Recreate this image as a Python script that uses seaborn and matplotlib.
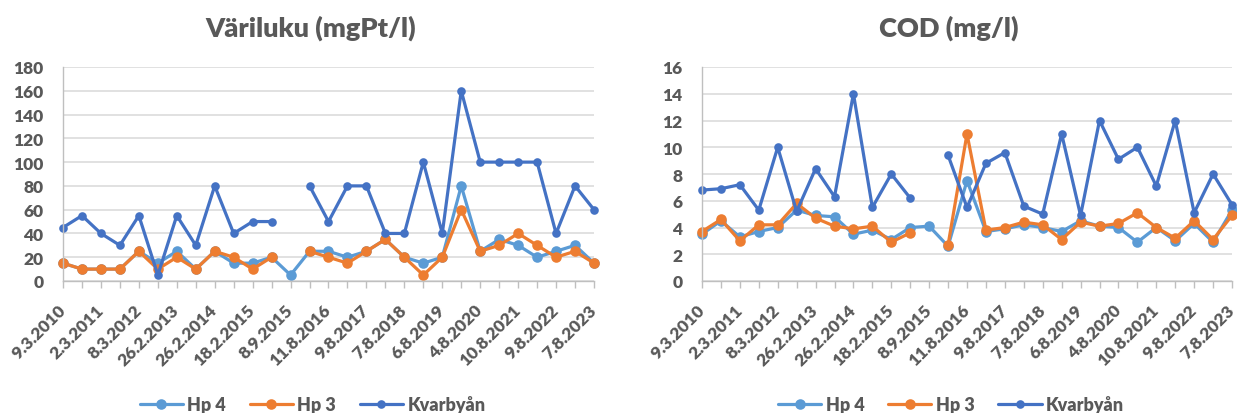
import numpy as np
import pandas as pd
import matplotlib
matplotlib.use("Agg")
import matplotlib.pyplot as plt
import seaborn as sns
from matplotlib.lines import Line2D
from matplotlib import font_manager

# Sampling dates shown on the x axis (every second sampling occasion)
tick_dates = ["9.3.2010", "2.3.2011", "8.3.2012", "26.2.2013", "26.2.2014",
              "18.2.2015", "8.9.2015", "11.8.2016", "9.8.2017", "7.8.2018",
              "6.8.2019", "4.8.2020", "10.8.2021", "9.8.2022", "7.8.2023"]

series_names = ["Hp 4", "Hp 3", "Kvarbyån"]
nan = np.nan

# Colour number (mgPt/l)
color_hp4 = [15, 10, 10, 10, 25, 15, 25, 10, 25, 15, 15, 20, 5, 25, 25,
             20, 25, 35, 20, 15, 20, 80, 25, 35, 30, 20, 25, 30, 15]
color_hp3 = [15, 10, 10, 10, 25, 10, 20, 10, 25, 20, 10, 20, nan, 25, 20,
             15, 25, 35, 20, 5, 20, 60, 25, 30, 40, 30, 20, 25, 15]
color_kvarby = [45, 55, 40, 30, 55, 5, 55, 30, 80, 40, 50, 50, nan, 80, 50,
                80, 80, 40, 40, 100, 40, 160, 100, 100, 100, 100, 40, 80, 60]

# COD (mg/l)
cod_hp4 = [3.5, 4.5, 3.3, 3.7, 4.0, 5.3, 4.9, 4.8, 3.5, 3.8, 3.1, 4.0, 4.1, 2.6, 7.5,
           3.7, 3.9, 4.2, 4.0, 3.7, 4.5, 4.1, 4.0, 2.9, 4.0, 3.0, 4.3, 2.9, 5.3]
cod_hp3 = [3.7, 4.6, 3.0, 4.2, 4.2, 5.8, 4.7, 4.1, 3.9, 4.1, 2.9, 3.6, nan, 2.7, 11.0,
           3.8, 4.0, 4.4, 4.2, 3.1, 4.4, 4.1, 4.3, 5.1, 4.0, 3.2, 4.5, 3.1, 4.9]
cod_kvarby = [6.8, 6.9, 7.2, 5.3, 10.0, 5.2, 8.4, 6.3, 14.0, 5.5, 8.0, 6.2, nan, 9.4, 5.5,
              8.8, 9.6, 5.6, 5.0, 11.0, 4.9, 12.0, 9.1, 10.0, 7.1, 12.0, 5.1, 8.0, 5.7]

palette = {"Hp 4": "#5B9BD5", "Hp 3": "#ED7D31", "Kvarbyån": "#4472C4"}
marker_px = {"Hp 4": 7.6, "Hp 3": 7.6, "Kvarbyån": 6.2}
text_grey = "#595959"
families = ["Lato", "DejaVu Sans"]

sns.set_theme(style="white")
plt.rcParams["font.family"] = families
plt.rcParams["font.weight"] = "bold"
tick_font = font_manager.FontProperties(family=families, weight="heavy", size=12.5)
legend_font = font_manager.FontProperties(family=families, weight="heavy", size=13)
title_font = font_manager.FontProperties(family=families, weight="heavy", size=19.5)


def long_frame(values, name):
    vals = np.asarray(values, dtype=float)
    run = np.cumsum(np.isnan(vals))
    df = pd.DataFrame({"idx": np.arange(len(vals)), "value": vals,
                       "series": name, "run": run})
    return df.dropna(subset=["value"])


def draw_panel(ax, series_values, title, ymax, ystep):
    for name, vals in zip(series_names, series_values):
        df = long_frame(vals, name)
        sns.lineplot(data=df, x="idx", y="value", units="run", estimator=None,
                     sort=False, color=palette[name], linewidth=2.3,
                     marker="o", markersize=marker_px[name], markeredgewidth=0,
                     legend=False, ax=ax)
    for ln in ax.lines:
        ln.set_clip_on(False)
    n = len(series_values[0])
    ax.set_xlim(0, n - 1)
    ax.set_ylim(0, ymax)
    yt = np.arange(0, ymax + ystep / 2, ystep)
    ax.set_yticks(yt)
    ax.set_yticklabels([f"{v:g}" for v in yt], fontproperties=tick_font, color=text_grey)
    labels = [""] * n
    for k, lab in enumerate(tick_dates):
        labels[2 * k] = lab
    ax.set_xticks(np.arange(n))
    ax.set_xticklabels(labels, rotation=45, ha="right", va="center",
                       rotation_mode="anchor", fontproperties=tick_font, color=text_grey)
    ax.set_xlabel("")
    ax.set_ylabel("")
    ax.grid(axis="y", color="#D9D9D9", linewidth=1.1)
    ax.set_axisbelow(True)
    for side in ["top", "right"]:
        ax.spines[side].set_visible(False)
    for side in ["left", "bottom"]:
        ax.spines[side].set_color("#BFBFBF")
        ax.spines[side].set_linewidth(1.0)
    ax.tick_params(axis="y", length=0, pad=14)
    ax.tick_params(axis="x", length=5, width=1, color="#BFBFBF", direction="out",
                   bottom=True, pad=14)
    ax.text(0.466, 1.145, title, transform=ax.transAxes, ha="center", va="baseline",
            fontproperties=title_font, color=text_grey)
    handles = [Line2D([0], [0], color=palette[s], linewidth=2.3, marker="o",
                      markersize=marker_px[s], markeredgewidth=0)
               for s in series_names]
    leg = ax.legend(handles, series_names, loc="center", ncol=3,
                    bbox_to_anchor=(0.47, -0.575), frameon=False,
                    handlelength=2.4, columnspacing=1.3, handletextpad=0.25,
                    prop=legend_font)
    for t in leg.get_texts():
        t.set_color(text_grey)


fig = plt.figure(figsize=(12.37, 4.14), dpi=100)
ax1 = fig.add_axes([63 / 1237, 132 / 414, 531 / 1237, 214 / 414])
ax2 = fig.add_axes([702 / 1237, 132 / 414, 530 / 1237, 214 / 414])

draw_panel(ax1, [color_hp4, color_hp3, color_kvarby], "Väriluku (mgPt/l)", 180, 20)
draw_panel(ax2, [cod_hp4, cod_hp3, cod_kvarby], "COD (mg/l)", 16, 2)

fig.savefig("out.png", dpi=100, facecolor="white")
